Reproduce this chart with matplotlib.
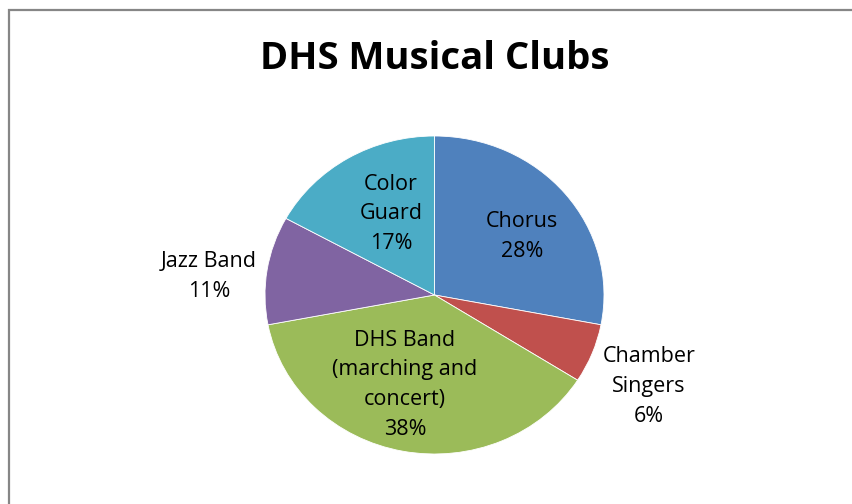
import matplotlib
matplotlib.use("Agg")
import matplotlib.pyplot as plt
from matplotlib.patches import Rectangle

clubs = ["Chorus", "Chamber\nSingers", "DHS Band\n(marching and\nconcert)", "Jazz Band", "Color\nGuard"]
shares = [28, 6, 38, 11, 17]
colors = ["#4F81BD", "#C0504D", "#9BBB59", "#8064A2", "#4BACC6"]

# label centres in pie data units (x, y), as placed by the original chart
label_xy = [(0.516, 0.37), (1.265, -0.575), (-0.174, -0.565), (-1.33, 0.118), (-0.257, 0.51)]

W, H = 853, 504
fig = plt.figure(figsize=(W / 100, H / 100), dpi=100)
plt.rcParams["font.family"] = ["Open Sans", "DejaVu Sans"]

# outer chart frame (runs off the right and bottom of the image)
fig.patches.append(Rectangle((9 / W, -0.1), 1.2, 1 - 9.5 / H + 0.1,
                             transform=fig.transFigure, fill=False,
                             edgecolor="#868686", linewidth=1.6))

# pie is slightly wider than tall in the original
cx, cy, rx, ry = 434.5, 295, 169.5, 159
ax = fig.add_axes([(cx - rx) / W, 1 - (cy + ry) / H, 2 * rx / W, 2 * ry / H])
wedges, _ = ax.pie(shares, colors=colors, startangle=90, counterclock=False,
                   radius=1, wedgeprops=dict(edgecolor="white", linewidth=0.6))
ax.set_aspect("auto")
ax.set_xlim(-1, 1)
ax.set_ylim(-1, 1)
ax.axis("off")

for name, val, (x, y) in zip(clubs, shares, label_xy):
    ax.text(x, y, f"{name}\n{val}%", ha="center", va="center",
            fontsize=15.5, linespacing=1.55, color="black")

fig.text(cx / W, 1 - 69 / H, "DHS Musical Clubs", ha="center", va="baseline",
         fontsize=27.5, fontweight="bold")

fig.savefig("out.png", dpi=100)
